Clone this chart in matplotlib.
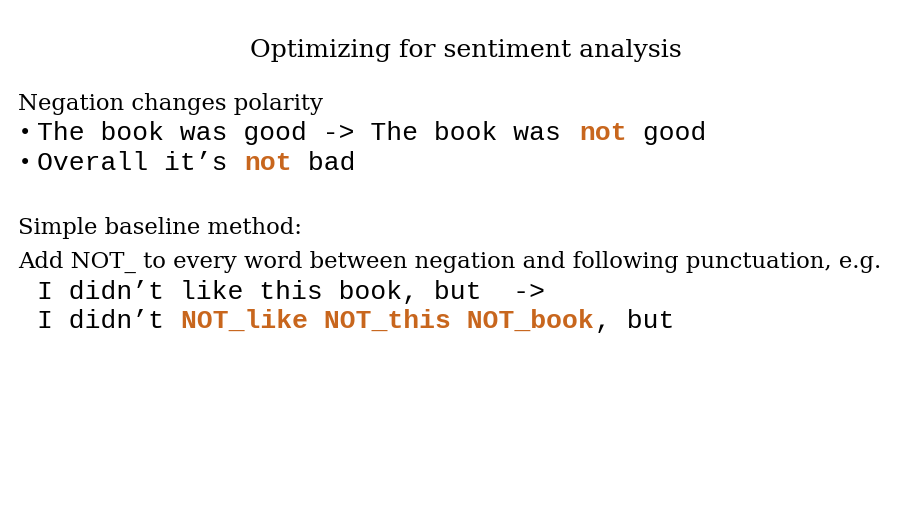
import matplotlib
matplotlib.use('Agg')
import matplotlib.pyplot as plt

W, H = 918, 513
ORANGE = '#c8661d'
CW = 15.95  # monospace char width in px

title = 'Optimizing for sentiment analysis'
serif_lines = [('Negation changes polarity', 104),
               ('Simple baseline method:', 228),
               ('Add NOT_ to every word between negation and following punctuation, e.g.', 262)]
# (segments, y, x0) ; segments are (text, highlighted)
mono_lines = [([('The book was good -> The book was ', False), ('not', True), (' good', False)], 133, 37),
              ([('Overall it\u2019s ', False), ('not', True), (' bad', False)], 163, 37),
              ([('I didn\u2019t like this book, but  ->', False)], 292, 37),
              ([('I didn\u2019t ', False), ('NOT_like NOT_this NOT_book', True), (', but', False)], 321, 37)]
bullet_rows = [133, 163]

fig = plt.figure(figsize=(W / 100, H / 100), dpi=100)

def fx(x):
    return x / W

def fy(y):
    return 1 - y / H

fig.text(fx(466), fy(50), title, ha='center', va='center', family='DejaVu Serif', fontsize=18.2)
for txt, y in serif_lines:
    fig.text(fx(18), fy(y), txt, ha='left', va='center', family='DejaVu Serif', fontsize=16.35)

for y in bullet_rows:
    fig.text(fx(19), fy(y), '\u2022', ha='left', va='center', family='DejaVu Sans', fontsize=15)

for segs, y, x0 in mono_lines:
    n = 0
    for txt, hi in segs:
        fig.text(fx(x0 + n * CW), fy(y), txt, ha='left', va='center',
                 family='Liberation Mono', fontsize=19,
                 color=ORANGE if hi else 'black',
                 fontweight='bold' if hi else 'normal')
        n += len(txt)

fig.savefig('out.png', dpi=100)
